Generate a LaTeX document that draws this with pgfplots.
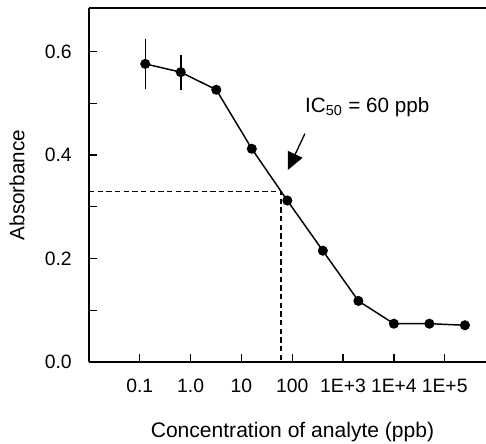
\documentclass[border=0pt]{standalone}
\usepackage{fontspec}
\setmainfont{Liberation Sans}
\usepackage{pgfplots}
\pgfplotsset{compat=1.18}
\usetikzlibrary{arrows.meta}

\begin{document}
\begin{tikzpicture}
\begin{axis}[
    scale only axis,
    width=297.75pt, height=265.5pt,
    xmode=log, log basis x=10,
    xmin=0.01, xmax=6.5e5,
    ymin=0, ymax=0.684,
    axis x line*=bottom, axis y line*=left,
    axis line style={line width=1.4pt},
    tick align=inside,
    major tick length=6pt,
    tick style={line width=1pt, black},
    xminorticks=false,
    xtick={0.1,1,10,100,1000,10000,100000},
    xticklabels={0.1,1.0,10,100,1E+3,1E+4,1E+5},
    ytick={0,0.1,0.2,0.3,0.4,0.5,0.6},
    yticklabels={0.0,,0.2,,0.4,,0.6},
    xticklabel style={font=\fontsize{14.5}{16}\selectfont, inner sep=0pt, anchor=north, yshift=-12.75pt},
    yticklabel style={font=\fontsize{14.5}{16}\selectfont, inner sep=0pt, anchor=east, xshift=-12.75pt},
    xlabel={Concentration of analyte (ppb)},
    ylabel={Absorbance},
    xlabel style={font=\fontsize{15.8}{17}\selectfont, at={([xshift=3.75pt,yshift=-45pt]axis description cs:0.5,0)}, anchor=north, inner sep=0pt},
    ylabel style={font=\fontsize{15.5}{17}\selectfont, at={([xshift=-54pt]axis description cs:0,0.5)}, anchor=center, inner sep=0pt},
    clip=false,
]
% IC50 guide lines
\addplot[black, line width=0.8pt, dash pattern=on 4pt off 2.5pt] coordinates {
    (0.01,0.33) (60,0.33) (60,0)
};

% absorbance curve
\addplot[black, line width=1.1pt, mark=*, mark size=3.2pt,
    error bars/.cd, y dir=both, y explicit, error mark=none,
    error bar style={line width=1.1pt}] coordinates {
    (0.128,0.576) +- (0,0.048)
    (0.64,0.560) +- (0,0.034)
    (3.2,0.526)
    (16,0.412)
    (80,0.312)
    (400,0.215)
    (2000,0.118)
    (10000,0.074)
    (50000,0.074)
    (250000,0.071)
};

\draw[line width=1.4pt] (rel axis cs:0,1) -- (rel axis cs:1,1);
\draw[line width=1pt, -{Triangle[length=13pt,width=12pt]}] (axis cs:177,0.441) -- (axis cs:82,0.371);
\node[anchor=west, inner sep=0pt, font=\fontsize{15.5}{17}\selectfont] at (axis cs:177,0.493) {IC\textsubscript{50} = 60 ppb};
\end{axis}
\pgfresetboundingbox
\path ([xshift=-66.75pt,yshift=-61.5pt]current axis.south west) rectangle ([yshift=6pt]current axis.north east);
\end{tikzpicture}
\end{document}
